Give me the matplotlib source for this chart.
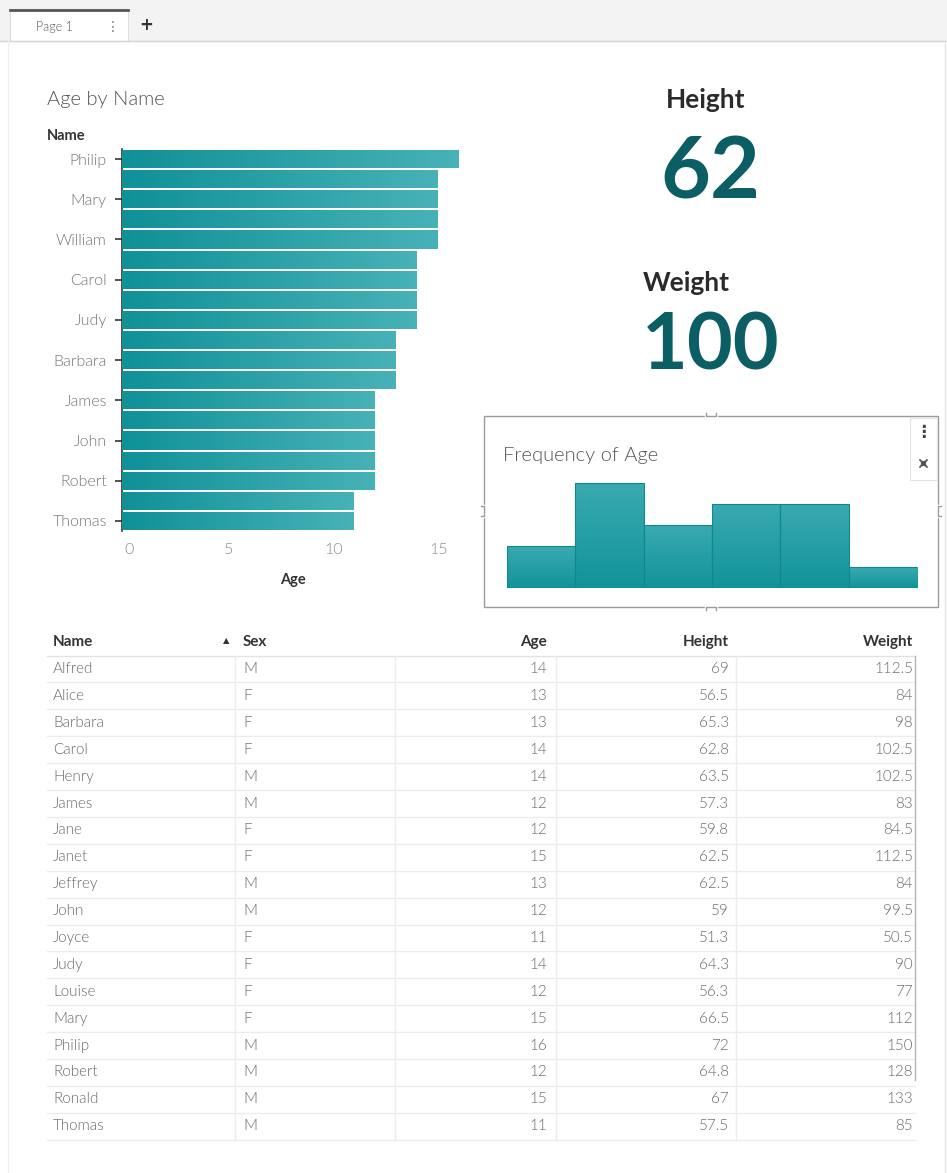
import matplotlib
matplotlib.use("Agg")
import matplotlib.pyplot as plt
from matplotlib.patches import Rectangle
from matplotlib.colors import LinearSegmentedColormap
import matplotlib.transforms as mtransforms
import numpy as np

plt.rcParams['font.family'] = ['Lato', 'DejaVu Sans']

# ---------------- data ----------------
names = ["Alfred", "Alice", "Barbara", "Carol", "Henry", "James", "Jane", "Janet",
         "Jeffrey", "John", "Joyce", "Judy", "Louise", "Mary", "Philip", "Robert",
         "Ronald", "Thomas", "William"]
sex = ["M", "F", "F", "F", "M", "M", "F", "F", "M", "M", "F", "F", "F", "F", "M",
       "M", "M", "M", "M"]
age = [14, 13, 13, 14, 14, 12, 12, 15, 13, 12, 11, 14, 12, 15, 16, 12, 15, 11, 15]
height = ["69", "56.5", "65.3", "62.8", "63.5", "57.3", "59.8", "62.5", "62.5", "59",
          "51.3", "64.3", "56.3", "66.5", "72", "64.8", "67", "57.5", "66.5"]
weight = ["112.5", "84", "98", "102.5", "102.5", "83", "84.5", "112.5", "84", "99.5",
          "50.5", "90", "77", "112", "150", "128", "133", "85", "112"]
columns = ["Name", "Sex", "Age", "Height", "Weight"]
visible_rows = 18

W, H = 947, 1173
fig = plt.figure(figsize=(W / 100, H / 100), dpi=100)
fig.patch.set_facecolor("white")

def fx(x):
    return x / W

def fy(y):
    return 1 - y / H

# overlay in pixel coordinates
ov = fig.add_axes([0, 0, 1, 1])
ov.set_xlim(0, W)
ov.set_ylim(H, 0)
ov.axis("off")

# tab bar
ov.add_patch(Rectangle((0, 0), W, 41, facecolor="#f3f3f3", edgecolor="none"))
ov.plot([0, W], [41, 41], color="#d2d2d2", lw=1)
ov.add_patch(Rectangle((10, 9), 118, 32, facecolor="white", edgecolor="#dddddd", lw=0.8))
ov.plot([10, 128], [9.5, 9.5], color="#555555", lw=2)
ov.text(36, 27, "Page 1", fontsize=9, color="#555555", va="center", ha="left", fontweight=300)
ov.text(113, 27, "⋮", fontsize=10, color="#777777", va="center", ha="center", family="DejaVu Sans")
ov.text(146, 25, "+", fontsize=12, color="#333333", va="center", ha="center", fontweight="bold", family="DejaVu Sans")
ov.plot([945, 945], [41, H], color="#e4e4e4", lw=1)
ov.plot([8, 8], [41, H], color="#f0f0f0", lw=1)

teal = LinearSegmentedColormap.from_list("teal", ["#0f9197", "#47b2b7"])
teal_v = LinearSegmentedColormap.from_list("teal_v", ["#12939a", "#3aaab0"])

# ---------------- Age by Name bar chart ----------------
order = sorted(range(len(names)), key=lambda i: (-age[i], names[i]))
bar_names = [names[i] for i in order]
bar_ages = [age[i] for i in order]

ax1 = fig.add_axes([fx(122), fy(531), fx(342), 382 / H])
pos = np.arange(len(bar_names))
bars = ax1.barh(pos, bar_ages, height=0.9, color="#2aa0a6", edgecolor="none", zorder=2)
grad = np.linspace(0, 1, 256).reshape(1, -1)
for b in bars:
    x0, y0, w, h = b.get_x(), b.get_y(), b.get_width(), b.get_height()
    im = ax1.imshow(grad, extent=[x0, x0 + w, y0 + h, y0], aspect="auto", cmap=teal, zorder=3)
    im.set_clip_path(b)
ax1.set_xlim(0, 342 / 21)
ax1.set_ylim(len(bar_names) - 0.5, -0.5)
for s in ["top", "right", "bottom"]:
    ax1.spines[s].set_visible(False)
ax1.spines["left"].set_color("#333333")
ax1.spines["left"].set_linewidth(1.2)
ax1.set_yticks(pos[::2])
ax1.set_yticklabels(bar_names[::2], fontsize=11.5, color="#747474", fontweight=300)
ax1.tick_params(axis="y", length=5, width=1.2, color="#333333", pad=6)
ax1.set_xticks([0, 5, 10, 15])
ax1.set_xticklabels(["0", "5", "10", "15"], fontsize=11.5, color="#8a8a8a", fontweight=300)
ax1.tick_params(axis="x", length=0, pad=9)
xl = ax1.get_xticklabels()
xl[0].set_transform(xl[0].get_transform() + mtransforms.ScaledTranslation(7 / 100, 0, fig.dpi_scale_trans))
for lab in xl[1:]:
    lab.set_transform(lab.get_transform() + mtransforms.ScaledTranslation(2 / 100, 0, fig.dpi_scale_trans))
ax1.set_facecolor("none")

ov.text(47, 100, "Age by Name", fontsize=14.5, color="#555555", va="center", ha="left", fontweight=300)
ov.text(47, 136, "Name", fontsize=10.5, color="#333333", va="center", ha="left", fontweight="bold")
ov.text(293, 580, "Age", fontsize=10.5, color="#333333", va="center", ha="center", fontweight="bold")

# ---------------- KPIs ----------------
avg_h = int(round(np.mean([float(v) for v in height])))
avg_w = int(round(np.mean([float(v) for v in weight])))
ov.text(706, 100, "Height", fontsize=19, color="#2a2a2a", va="center", ha="center", fontweight="bold")
ov.text(710, 174, f"{avg_h}", fontsize=62, color="#0b5f64", va="center", ha="center", fontweight="bold")
ov.text(686, 283, "Weight", fontsize=19, color="#2a2a2a", va="center", ha="center", fontweight="bold")
ov.text(711, 348, f"{avg_w}", fontsize=57, color="#0b5f64", va="center", ha="center", fontweight="bold")

# ---------------- Frequency of Age ----------------
ov.add_patch(Rectangle((484, 416), 454, 191, facecolor="none", edgecolor="#9a9a9a", lw=1))
for (mx, my, dx, dy) in [(711, 416, 5, 0), (711, 607, 5, 0), (484, 511, 0, 5), (938, 511, 0, 5)]:
    ov.plot([mx - dx, mx + dx], [my - dy, my + dy], color="white", lw=2.5, zorder=5)
    if dx:
        ov.plot([mx - dx, mx - dx, mx + dx, mx + dx], [my - 3, my, my, my - 3] if my < 500 else [my + 3, my, my, my + 3], color="#9a9a9a", lw=1, zorder=6)
    else:
        ov.plot([mx - 3 if mx < 700 else mx + 3, mx, mx, mx - 3 if mx < 700 else mx + 3], [my - dy, my - dy, my + dy, my + dy], color="#9a9a9a", lw=1, zorder=6)
ov.add_patch(Rectangle((910, 418), 27, 62, facecolor="white", edgecolor="#e2e2e2", lw=0.8))
ov.text(923.5, 432, "⋮", fontsize=12, color="#444444", va="center", ha="center", family="DejaVu Sans", fontweight="bold")
for (ax_, ay_, bx_, by_) in [(918, 458, 922, 462), (929, 458, 925, 462), (918, 469, 922, 465), (929, 469, 925, 465)]:
    ov.annotate("", xy=(ax_, ay_), xytext=(bx_, by_), arrowprops=dict(arrowstyle="-|>", color="#555555", lw=1.0, mutation_scale=6))
ov.text(503, 456, "Frequency of Age", fontsize=14.5, color="#555555", va="center", ha="left", fontweight=300)

ax2 = fig.add_axes([fx(507), fy(588), fx(410), 118 / H])
n, edges, patches = ax2.hist(age, bins=np.arange(10.5, 17.5, 1.0), color="#2aa0a6",
                             edgecolor="#11878d", linewidth=0.8, zorder=2)
gv = np.linspace(1, 0, 256).reshape(-1, 1)
for p in patches:
    x0, y0, w, h = p.get_x(), p.get_y(), p.get_width(), p.get_height()
    im = ax2.imshow(gv, extent=[x0, x0 + w, y0, y0 + h], aspect="auto", cmap=teal_v, zorder=1, origin="upper")
    im.set_clip_path(p)
    p.set_facecolor("none")
ax2.set_xlim(10.5, 16.5)
ax2.set_ylim(0, 118 / 21)
ax2.axis("off")

# ---------------- table ----------------
row0, pitch = 669, 26.9
col_x = [53, 243, 547, 729, 913]
col_ha = ["left", "left", "right", "right", "right"]
for c, (lab, x, ha) in enumerate(zip(columns, col_x, col_ha)):
    ov.text(x, 642, lab, fontsize=11, color="#333333", va="center", ha=ha, fontweight="bold")
ov.text(226, 641, "▲", fontsize=6, color="#333333", va="center", ha="center", family="DejaVu Sans")
ov.plot([47, 915], [655.5, 655.5], color="#e2e2e2", lw=1)
table_cols = [names, sex, [str(a) for a in age], height, weight]
for i in range(visible_rows):
    y = row0 + pitch * i
    for vals, x, ha in zip(table_cols, col_x, col_ha):
        ov.text(x, y, vals[i], fontsize=11, color="#6a6a6a", va="center", ha=ha, fontweight=300)
    ov.plot([47, 915], [y + pitch / 2, y + pitch / 2], color="#ececec", lw=1)
table_bottom = row0 + pitch * (visible_rows - 0.5)
for vx in [235, 395, 556, 736]:
    ov.plot([vx, vx], [656, table_bottom], color="#ececec", lw=1)
ov.plot([915, 915], [656, table_bottom - 60], color="#b5b5b5", lw=1)

fig.savefig("out.png", dpi=100, facecolor="white")
